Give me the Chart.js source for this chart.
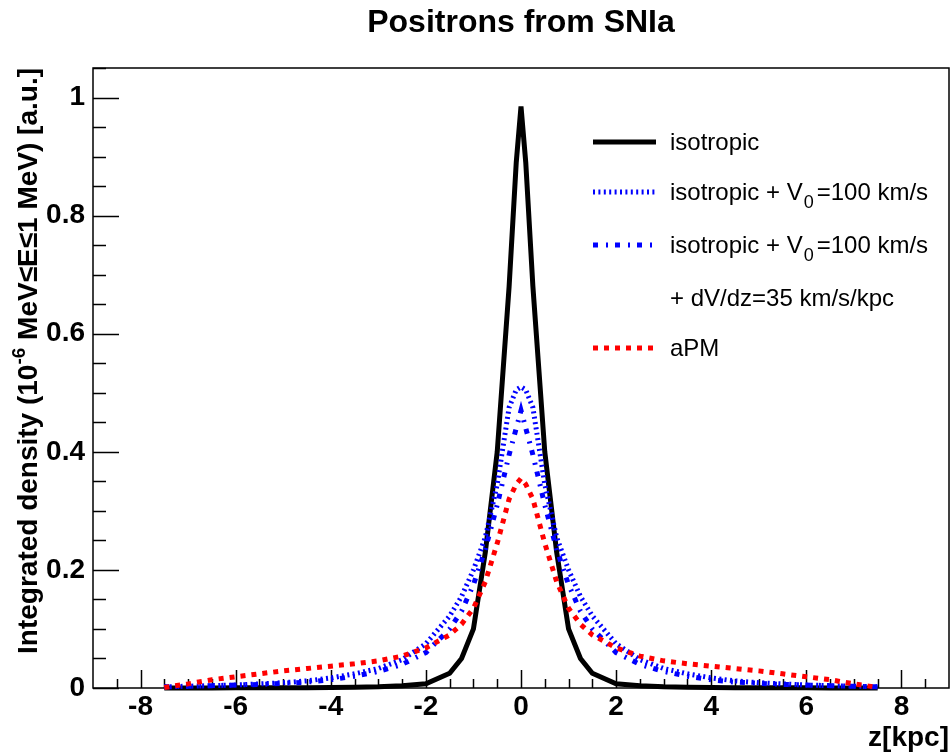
<!DOCTYPE html>
<html><head><meta charset="utf-8">
<script src="https://cdn.jsdelivr.net/npm/chart.js@4.4.0/dist/chart.umd.min.js"></script>
<style>html,body{margin:0;padding:0;background:#fff}canvas{display:block}</style>
</head><body>
<canvas id="c" width="951" height="755"></canvas>
<script>
// ---- data ----
const zValues = [-7.5,-7,-6.5,-6,-5.5,-5,-4.5,-4,-3.5,-3,-2.5,-2,-1.5,-1.25,-1,-0.75,-0.5,-0.25,-0.1,0,0.1,0.25,0.5,0.75,1,1.25,1.5,2,2.5,3,3.5,4,4.5,5,5.5,6,6.5,7,7.5];
const isotropic = [0,0.0001,0.0002,0.0003,0.0004,0.0005,0.0006,0.0008,0.0012,0.002,0.004,0.007,0.025,0.05,0.10,0.23,0.40,0.68,0.89,0.985,0.89,0.68,0.40,0.23,0.10,0.05,0.025,0.007,0.004,0.002,0.0012,0.0008,0.0006,0.0005,0.0004,0.0003,0.0002,0.0001,0];
const isoV0 = [0.002,0.003,0.004,0.005,0.007,0.009,0.012,0.017,0.024,0.033,0.048,0.075,0.122,0.155,0.2,0.255,0.345,0.475,0.505,0.51,0.505,0.475,0.345,0.255,0.2,0.155,0.122,0.075,0.048,0.033,0.024,0.017,0.012,0.009,0.007,0.005,0.004,0.003,0.002];
const isoV0Grad = [0.002,0.003,0.004,0.005,0.006,0.008,0.01,0.014,0.02,0.028,0.04,0.06,0.10,0.13,0.175,0.235,0.31,0.395,0.44,0.47,0.44,0.395,0.31,0.235,0.175,0.13,0.10,0.06,0.04,0.028,0.02,0.014,0.01,0.008,0.006,0.005,0.004,0.003,0.002];
const aPM = [0.001,0.007,0.014,0.019,0.024,0.029,0.033,0.037,0.041,0.046,0.054,0.068,0.09,0.108,0.135,0.18,0.245,0.32,0.345,0.355,0.345,0.32,0.245,0.18,0.135,0.108,0.09,0.068,0.054,0.046,0.041,0.037,0.033,0.029,0.024,0.019,0.014,0.007,0.001];

const xTicks = [-8,-6,-4,-2,0,2,4,6,8];
const xTickLabels = ['-8','-6','-4','-2','0','2','4','6','8'];
const yTicks = [0,0.2,0.4,0.6,0.8,1];
const yTickLabels = ['0','0.2','0.4','0.6','0.8','1'];

const titleText = 'Positrons from SNIa';
const xTitle = 'z[kpc]';
const legendLabels = ['isotropic', 'isotropic + V|0|=100 km/s', 'isotropic + V|0|=100 km/s', '+ dV/dz=35 km/s/kpc', 'aPM'];

const FONT = '"Liberation Sans", Arial, Helvetica, sans-serif';
const pts = arr => zValues.map((z, i) => ({x: z, y: arr[i]}));

const datasets = [
  {label: 'isotropic', data: pts(isotropic), borderColor: '#000', borderWidth: 5, borderDash: [], order: 4},
  {label: 'isotropic + V0=100 km/s', data: pts(isoV0), borderColor: '#0000ff', borderWidth: 5, borderDash: [2, 3.4], order: 3},
  {label: 'isotropic + V0=100 km/s + dV/dz=35 km/s/kpc', data: pts(isoV0Grad), borderColor: '#0000ff', borderWidth: 5, borderDash: [5, 8, 2, 7], order: 2},
  {label: 'aPM', data: pts(aPM), borderColor: '#ff0000', borderWidth: 5, borderDash: [5, 6], order: 1}
].map(d => Object.assign(d, {pointRadius: 0, tension: 0, fill: false, clip: false, borderCapStyle: 'butt', borderJoinStyle: 'miter'}));

const rootStyle = {
  id: 'rootStyle',
  beforeDatasetsDraw(chart) {
    const {ctx, chartArea: a, scales: {x, y}} = chart;
    ctx.save();
    ctx.strokeStyle = '#000';
    ctx.lineWidth = 1.5;
    ctx.strokeRect(a.left, a.top, a.right - a.left, a.bottom - a.top);
    ctx.beginPath();
    for (let v = -8.5; v <= 8.51; v += 0.5) {
      const px = Math.round(x.getPixelForValue(v)) + 0.5;
      const len = xTicks.some(t => Math.abs(t - v) < 1e-6) ? 18 : 9;
      ctx.moveTo(px, a.bottom); ctx.lineTo(px, a.bottom - len);
    }
    for (let v = 0; v <= 1.051; v += 0.05) {
      const py = Math.round(y.getPixelForValue(v)) + 0.5;
      const len = yTicks.some(t => Math.abs(t - v) < 1e-6) ? 26 : 13;
      ctx.moveTo(a.left, py); ctx.lineTo(a.left + len, py);
    }
    ctx.stroke();
    ctx.restore();
  },
  afterDraw(chart) {
    const {ctx, chartArea: a} = chart;
    ctx.save();
    ctx.fillStyle = '#000';
    // title
    ctx.font = 'bold 32px ' + FONT;
    ctx.textAlign = 'center';
    ctx.textBaseline = 'alphabetic';
    ctx.fillText(titleText, (a.left + a.right) / 2, 32);
    // x title
    ctx.font = 'bold 28px ' + FONT;
    ctx.textAlign = 'right';
    ctx.fillText(xTitle, a.right, 746);
    // y title (rotated)
    ctx.save();
    ctx.translate(37, a.top);
    ctx.rotate(-Math.PI / 2);
    ctx.textAlign = 'left';
    const parts = [
      {t: 'Integrated density (10', f: 'bold 28px ' + FONT, dy: 0},
      {t: '-6', f: 'bold 19px ' + FONT, dy: -12},
      {t: ' MeV\u2264E\u22641 MeV) [a.u.]', f: 'bold 28px ' + FONT, dy: 0}
    ];
    let total = 0;
    parts.forEach(p => { ctx.font = p.f; p.w = ctx.measureText(p.t).width; total += p.w; });
    let cx = -total;
    parts.forEach(p => { ctx.font = p.f; ctx.fillText(p.t, cx, p.dy); cx += p.w; });
    ctx.restore();
    // legend
    const rowsY = [142, 192, 245, 298, 348];
    const lineX0 = 593, lineX1 = 656, textX = 670;
    const legendSets = [0, 1, 2, null, 3];
    ctx.textAlign = 'left';
    rowsY.forEach((ry, i) => {
      const di = legendSets[i];
      if (di !== null) {
        const ds = chart.data.datasets[di];
        ctx.save();
        ctx.strokeStyle = ds.borderColor;
        ctx.lineWidth = ds.borderWidth;
        ctx.setLineDash(ds.borderDash);
        ctx.beginPath();
        ctx.moveTo(lineX0, ry); ctx.lineTo(lineX1, ry);
        ctx.stroke();
        ctx.restore();
      }
      const segs = legendLabels[i].split('|');
      let tx = textX;
      segs.forEach((s, k) => {
        const sub = k % 2 === 1;
        ctx.font = (sub ? '18px ' : '24px ') + FONT;
        ctx.fillText(s, tx, ry + 8 + (sub ? 8 : 0));
        tx += ctx.measureText(s).width + (sub ? 3 : 1);
      });
    });
    ctx.restore();
  }
};

new Chart(document.getElementById('c'), {
  type: 'line',
  data: {datasets},
  options: {
    responsive: false,
    animation: false,
    events: [],
    layout: {padding: {left: 0, right: 2, top: 68, bottom: 0}, autoPadding: false},
    plugins: {legend: {display: false}, title: {display: false}, tooltip: {enabled: false}},
    scales: {
      x: {
        type: 'linear', min: -9, max: 9,
        afterBuildTicks: s => { s.ticks = xTicks.map(v => ({value: v})); },
        afterFit: s => { s.height = 67; },
        grid: {display: false, drawTicks: false},
        border: {display: false},
        ticks: {
          callback: (v, i) => xTickLabels[i],
          font: {family: FONT, size: 28, weight: 'bold'}, color: '#000',
          padding: 2, maxRotation: 0, autoSkip: false
        }
      },
      y: {
        type: 'linear', min: 0, max: 1.05,
        afterBuildTicks: s => { s.ticks = yTicks.map(v => ({value: v})); },
        afterFit: s => { s.width = 93; },
        grid: {display: false, drawTicks: false},
        border: {display: false},
        ticks: {
          callback: (v, i) => yTickLabels[i],
          font: {family: FONT, size: 28, weight: 'bold'}, color: '#000',
          padding: 8, autoSkip: false
        }
      }
    }
  },
  plugins: [rootStyle]
});
</script>
</body></html>
